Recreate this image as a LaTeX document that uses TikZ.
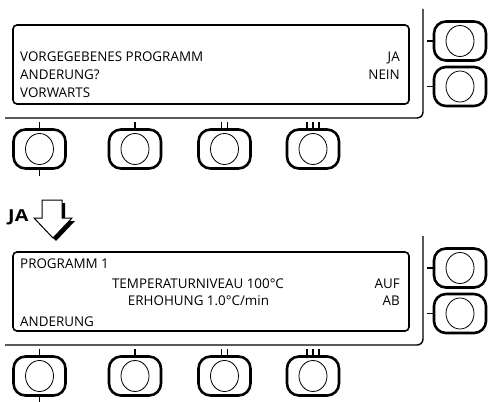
\documentclass[tikz,border=0pt]{standalone}
\usepackage{fontspec}
\setmainfont{Open Sans}
\newfontfamily\jafont{Open Sans}[FakeStretch=1.2]
\usetikzlibrary{shapes.geometric}
\begin{document}
\begin{tikzpicture}[x=1pt,y=-1pt,
  btn/.style={draw, line width=2.6pt, rounded corners=12pt, minimum width=52pt, minimum height=39pt, inner sep=0pt},
  knob/.style={draw, ellipse, line width=0.8pt, minimum width=28pt, minimum height=31pt, inner sep=0pt},
  disp/.style={draw, line width=1.6pt, rounded corners=4pt, inner sep=0pt},
  frame/.style={line width=1.4pt, rounded corners=6pt},
  tick/.style={line width=1.6pt},
  lbl/.style={font=\fontsize{13.4}{16}\selectfont, inner sep=0pt},
  jalbl/.style={font=\jafont\bfseries\fontsize{16.5}{19}\selectfont, inner sep=0pt}]
\useasboundingbox (0,0) rectangle (489,401);

\foreach \p/\oy in {a/0,b/227}{
  % display
  \node[disp, minimum width=396pt, minimum height=79pt] (disp\p) at (211,64.5+\oy) {};
  % frame
  \coordinate (ft\p) at (423,9+\oy);
  \coordinate (fc\p) at (423,118+\oy);
  \coordinate (fl\p) at (5,118+\oy);
  \draw[frame] (ft\p) -- (fc\p) -- (fl\p);
  % right buttons
  \node[btn] (r1\p) at (460,41+\oy) {};
  \node[knob] (rk1\p) at (r1\p) {};
  \node[btn] (r2\p) at (460,86.5+\oy) {};
  \node[knob] (rk2\p) at (r2\p) {};
  \draw[tick] (r1\p.west) -- ++(-6,0);
  \draw[tick] (r2\p.west) -- ++(-6,0);
  % bottom buttons
  \foreach \i/\cx in {1/39.5,2/135,3/224.5,4/313}{
    \node[btn] (b\i\p) at (\cx,149+\oy) {};
    \node[knob] (bk\i\p) at (b\i\p) {};
  }
  \draw[tick] (b1\p.north) -- ++(0,-6);
  \draw[tick] (b1\p.south) -- ++(0,6);
  \draw[tick] (b2\p.north) -- ++(0,-6);
  \draw[tick] ([xshift=-3pt]b3\p.north) -- ++(0,-6);
  \draw[tick] ([xshift=3pt]b3\p.north) -- ++(0,-6);
  \draw[tick] ([xshift=-6pt]b4\p.north) -- ++(0,-6);
  \draw[tick] (b4\p.north) -- ++(0,-6);
  \draw[tick] ([xshift=6pt]b4\p.north) -- ++(0,-6);
}

% texts panel 1
\node[lbl, anchor=base west] (t11) at (20,61.7) {VORGEGEBENES PROGRAMM};
\node[lbl, anchor=base west] (t12) at (20,80) {ANDERUNG?};
\node[lbl, anchor=base west] (t13) at (20,98) {VORWARTS};
\node[lbl, anchor=base east] (t14) at (400,61.7) {JA};
\node[lbl, anchor=base east] (t15) at (400,80) {NEIN};

% texts panel 2
\node[lbl, anchor=base west] (t21) at (20,268) {PROGRAMM 1};
\node[lbl, anchor=base] (t22) at (198,288) {TEMPERATURNIVEAU 100°C};
\node[lbl, anchor=base] (t23) at (198.5,305) {ERHOHUNG 1.0°C/min};
\node[lbl, anchor=base west] (t24) at (20,326) {ANDERUNG};
\node[lbl, anchor=base east] (t25) at (400,288) {AUF};
\node[lbl, anchor=base east] (t26) at (400,305) {AB};

% JA arrow
\node[jalbl, anchor=base west] (ja) at (8,221) {JA};
\fill[black] (45,203) -- (65,203) -- (65,221) -- (75,221) -- (56,241) -- (37,221) -- (45,221) -- cycle;
\draw[line width=1pt, fill=white, line join=miter] (42,200) -- (62,200) -- (62,218) -- (72,218) -- (53,238) -- (34,218) -- (42,218) -- cycle;
\end{tikzpicture}
\end{document}
